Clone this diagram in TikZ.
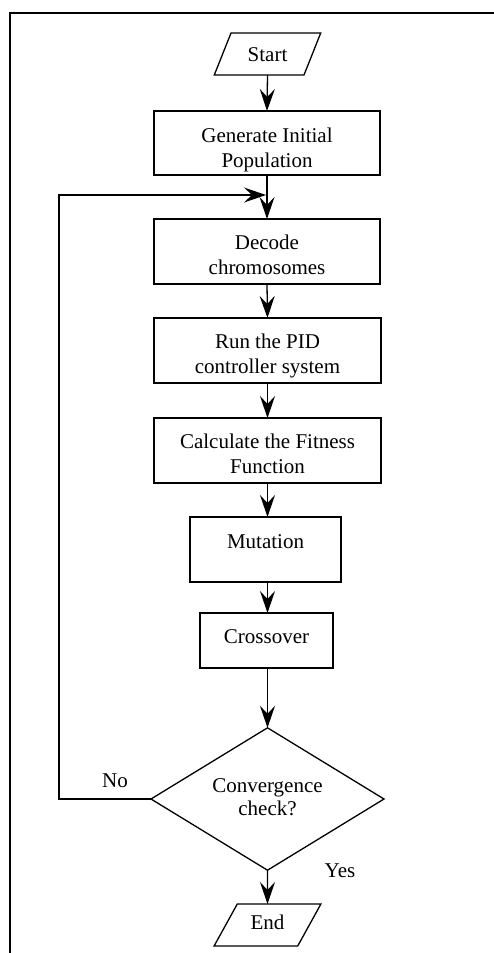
\documentclass[tikz,border=0pt]{standalone}
\usepackage{fontspec}
\setmainfont{Liberation Serif}
\usetikzlibrary{shapes.geometric,arrows.meta}
\begin{document}
\begin{tikzpicture}[x=1pt,y=-1pt,
  font=\fontsize{21}{25}\selectfont,
  every node/.style={inner sep=0pt, outer sep=0pt},
  box/.style={draw, line width=1.3pt, align=center},
  io/.style={draw, line width=1.3pt, trapezium, trapezium stretches=true,
    trapezium left angle=57, trapezium right angle=123,
    minimum width=107pt, minimum height=42pt, text height=14pt},
  dec/.style={draw, line width=1.3pt, diamond, minimum width=233pt,
    minimum height=134pt, align=center},
  arr/.style={line width=1.3pt, -{Stealth[length=22pt,width=15pt,inset=8pt]}},
  lbl/.style={anchor=base}
]
\useasboundingbox (0,0) rectangle (494,953);
\draw[line width=1.3pt] (10,953) -- (10,13) -- (494,13);

\node[io, text depth=0pt] (start) at (267.5,54) {Start};
\node[box, minimum width=226pt, minimum height=64pt, text height=48pt, text depth=0pt] (gen) at (267,143) {Generate Initial\\Population};
\node[box, minimum width=226pt, minimum height=65pt, text height=45pt, text depth=0pt] (dcd) at (267,251.5) {Decode\\chromosomes};
\node[box, minimum width=227pt, minimum height=65pt, text height=45pt, text depth=0pt] (run) at (267.5,350.5) {Run the PID\\controller system};
\node[box, minimum width=227pt, minimum height=65pt, text height=45pt, text depth=0pt] (fit) at (267.5,450.5) {Calculate the Fitness\\Function};
\node[box, minimum width=151pt, minimum height=65pt, text height=14pt, text depth=17pt] (mut) at (265.5,549.5) {Mutation};
\node[box, minimum width=133pt, minimum height=55pt, text height=14pt, text depth=9pt] (cro) at (266.5,640.5) {Crossover};
\node[dec, text height=32pt, text depth=0pt] (conv) at (267.5,799) {Convergence\\[-2pt]check?};
\node[io, text depth=6pt] (end) at (267.5,925) {End};

\node[lbl] (no) at (115,787) {No};
\node[lbl] (yes) at (340,877) {Yes};

\coordinate (merge) at (267,195);
\coordinate (bendA) at (59,799);
\coordinate (bendB) at (59,195);

\draw[arr] (start.south) -- (gen.north);
\draw[line width=1.3pt] (gen.south) -- (merge);
\draw[arr] (merge) -- (dcd.north);
\draw[arr] (dcd.south) -- (run.north);
\draw[arr] (run.south) -- (fit.north);
\draw[arr] (fit.south) -- (fit.south |- mut.north);
\draw[arr] (fit.south |- mut.south) -- (fit.south |- cro.north);
\draw[arr] (fit.south |- cro.south) -- (conv.north);
\draw[arr] (conv.south) -- (end.north);
\draw[arr] (conv.west) -- (bendA) -- (bendB) -- ([xshift=-1pt]merge);
\end{tikzpicture}
\end{document}
